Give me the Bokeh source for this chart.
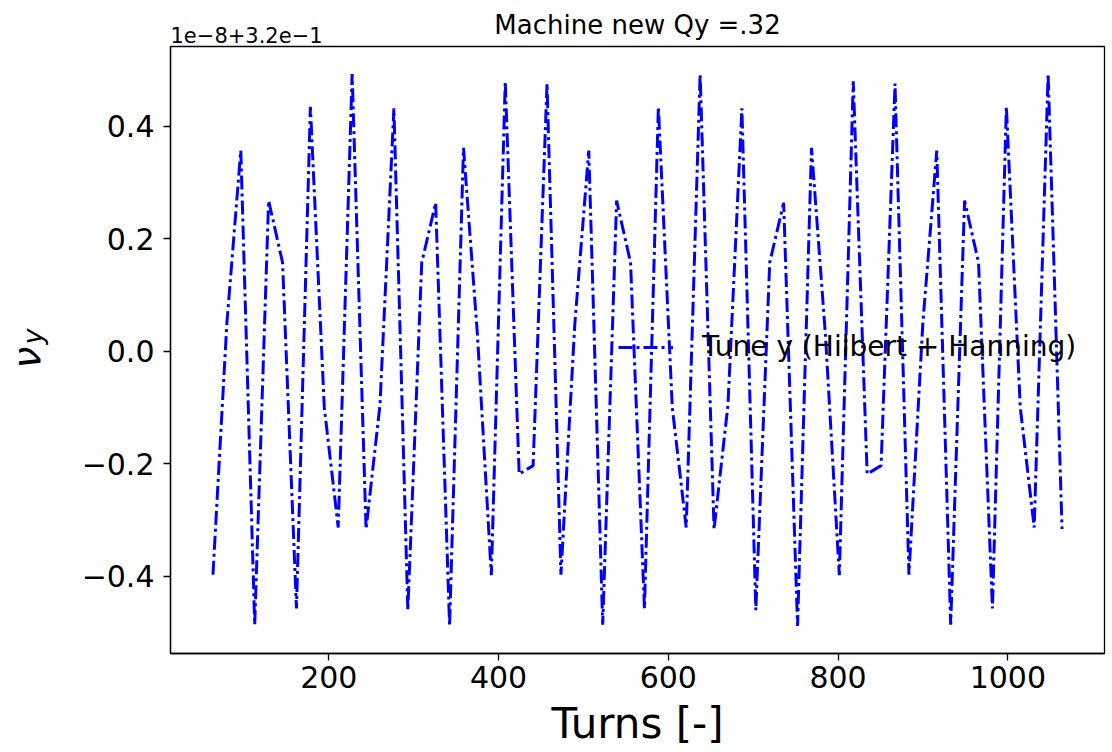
import math
from bokeh.plotting import figure
from bokeh.models import Range1d, FixedTicker, Label, CustomJSTickFormatter
from bokeh.embed import file_html
from bokeh.resources import INLINE

# ---- data ----
turns = [63.5, 79.9, 96.3, 112.7, 129.1, 145.5, 161.9, 178.3, 194.7, 211.1,
         227.5, 243.9, 260.3, 276.7, 293.1, 309.5, 325.9, 342.3, 358.7, 375.1,
         391.5, 407.9, 424.3, 440.7, 457.1, 473.5, 489.9, 506.3, 522.7, 539.1,
         555.5, 571.9, 588.3, 604.7, 621.1, 637.5, 653.9, 670.3, 686.7, 703.1,
         719.5, 735.9, 752.3, 768.7, 785.1, 801.5, 817.9, 834.3, 850.7, 867.1,
         883.5, 899.9, 916.3, 932.7, 949.1, 965.5, 981.9, 998.3, 1014.7, 1031.1,
         1047.5, 1063.9]
# tune offset from 0.32, in units of 1e-8
tune_y = [-0.397, 0.05, 0.357, -0.486, 0.268, 0.158, -0.457, 0.435, -0.10, -0.313,
          0.493, -0.316, -0.095, 0.432, -0.46, 0.158, 0.264, -0.488, 0.362, 0.03,
          -0.398, 0.48, -0.218, -0.203, 0.476, -0.397, 0.05, 0.357, -0.486, 0.268,
          0.158, -0.457, 0.435, -0.10, -0.313, 0.493, -0.316, -0.095, 0.432, -0.46,
          0.158, 0.264, -0.488, 0.362, 0.03, -0.398, 0.48, -0.218, -0.203, 0.476,
          -0.397, 0.05, 0.357, -0.486, 0.268, 0.158, -0.457, 0.435, -0.10, -0.313,
          0.493, -0.316]
x_ticks = [200, 400, 600, 800, 1000]
y_ticks = [-0.4, -0.2, 0.0, 0.2, 0.4]
title_text = "Machine new Qy =.32"
offset_text = "1e\u22128+3.2e\u22121"
legend_text = "Tune y (Hilbert + Hanning)"
x_label = "Turns [-]"
y_label_main = "\u03bd"
y_label_sub = "y"

FONT = "DejaVu Sans"

def padded(vals, frac=0.05):
    lo, hi = min(vals), max(vals)
    w = hi - lo
    return lo - frac * w, hi + frac * w

x0, x1 = padded(turns)
y0, y1 = padded(tune_y)

p = figure(width=1112, height=752, output_backend="svg", toolbar_location=None,
           x_range=Range1d(x0, x1), y_range=Range1d(y0, y1), title=None,
           min_border_left=170, min_border_right=8, min_border_top=45,
           min_border_bottom=99)

p.background_fill_color = "white"
p.border_fill_color = "white"
p.grid.visible = False
p.outline_line_color = "black"
p.outline_line_width = 1.3
p.outline_line_alpha = 1.0

p.line(turns, tune_y, line_color="#0000ff", line_width=3,
       line_dash="14 4 3 4", legend_label=legend_text)

for ax in (p.xaxis[0], p.yaxis[0]):
    ax.major_tick_out = 7
    ax.major_tick_in = 0
    ax.minor_tick_out = 0
    ax.minor_tick_in = 0
    ax.major_tick_line_width = 1.3
    ax.axis_line_width = 1.3
    ax.major_label_text_font = FONT
    ax.major_label_text_font_size = "30px"
    ax.major_label_text_color = "black"

p.xaxis.ticker = FixedTicker(ticks=x_ticks)
p.yaxis.ticker = FixedTicker(ticks=y_ticks)
p.yaxis.formatter = CustomJSTickFormatter(
    code="return tick.toFixed(1).replace('-', '\u2212');")
p.xaxis.major_label_standoff = 5
p.yaxis.major_label_standoff = 9

p.xaxis.axis_label = x_label
p.xaxis.axis_label_text_font = FONT
p.xaxis.axis_label_text_font_size = "42px"
p.xaxis.axis_label_text_font_style = "normal"
p.xaxis.axis_label_text_color = "black"
p.xaxis.axis_label_standoff = 8

# y label: greek nu with subscript y (side-panel labels, placed relative to panel)
p.add_layout(Label(x=-7, y=285, x_units="screen", y_units="screen", text=y_label_main,
                   angle=math.pi / 2, text_font=FONT, text_font_size="39px",
                   text_font_style="italic", text_color="black",
                   text_align="left", text_baseline="alphabetic"), "left")
p.add_layout(Label(x=30, y=309, x_units="screen", y_units="screen", text=y_label_sub,
                   angle=math.pi / 2, text_font=FONT, text_font_size="27px",
                   text_font_style="italic", text_color="black",
                   text_align="left", text_baseline="alphabetic"), "left")

# offset text (inner top panel) and title (outer top panel)
p.add_layout(Label(x=0, y=12, x_units="screen", y_units="screen", text=offset_text,
                   text_font=FONT, text_font_size="21px", text_color="black",
                   text_align="left", text_baseline="alphabetic"), "above")
p.add_layout(Label(x=467, y=6, x_units="screen", y_units="screen", text=title_text,
                   text_font=FONT, text_font_size="26px", text_color="black",
                   text_align="center", text_baseline="alphabetic"), "above")

lg = p.legend[0]
lg.location = (448, 290)
lg.padding = 0
lg.margin = 0
lg.spacing = 0
lg.border_line_alpha = 0
lg.background_fill_alpha = 0
lg.label_text_font = FONT
lg.label_text_font_size = "28px"
lg.label_text_color = "black"
lg.glyph_width = 55
lg.glyph_height = 28
lg.label_height = 28
lg.label_standoff = 29

open("out.html", "w").write(file_html(p, INLINE))
